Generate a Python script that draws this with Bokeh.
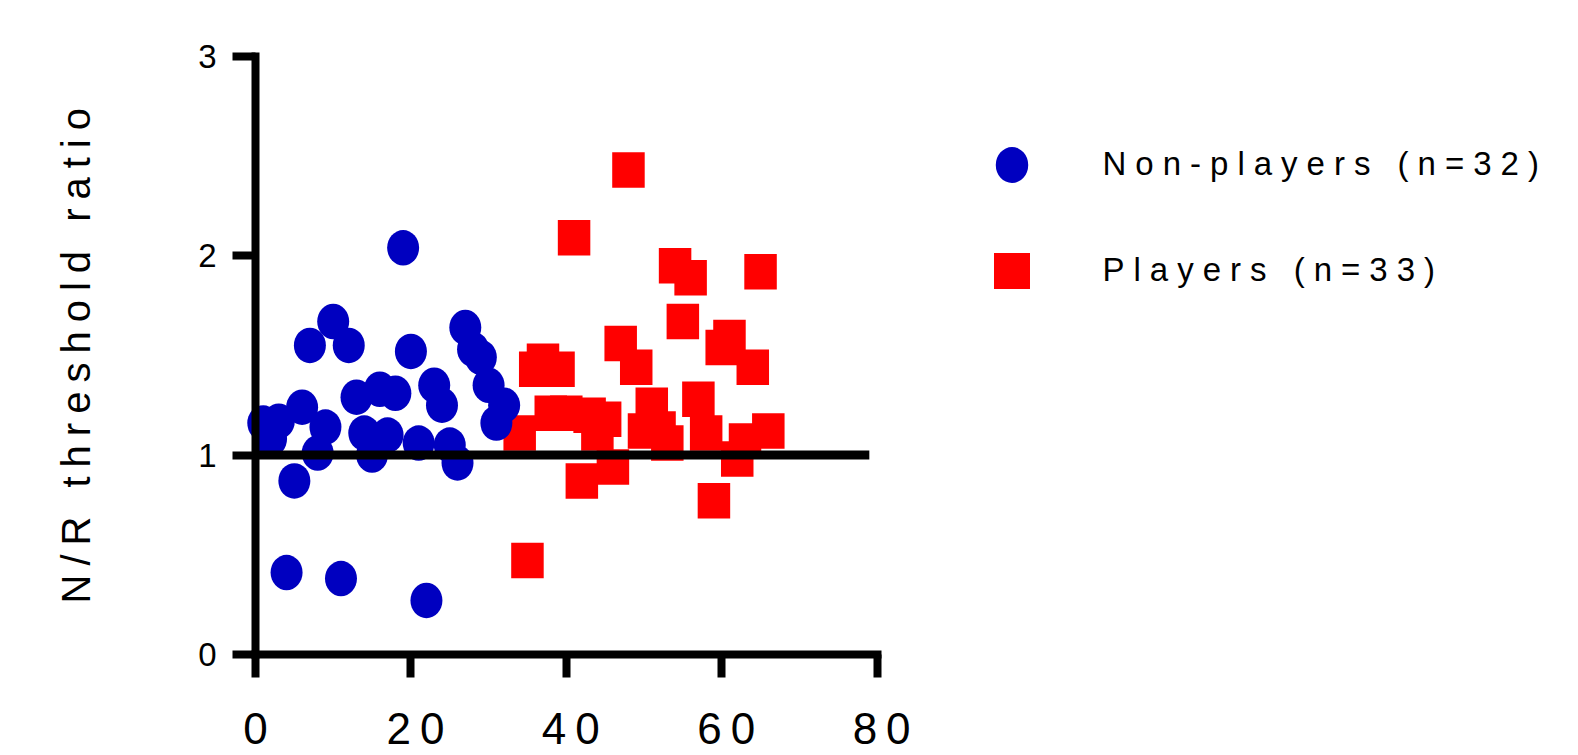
import math
from bokeh.plotting import figure
from bokeh.models import Range1d, FixedTicker, Legend, LegendItem, Label, InlineStyleSheet
from bokeh.embed import file_html
from bokeh.resources import INLINE

# ---------------- data ----------------
nonplayer_x = [1, 2, 3, 4, 5, 6, 7, 8, 9, 10, 11, 12, 13, 14, 15, 16,
               17, 18, 19, 20, 21, 22, 23, 24, 25, 26, 27, 28, 29, 30, 31, 32]
nonplayer_y = [1.16, 1.08, 1.17, 0.41, 0.87, 1.24, 1.55, 1.01, 1.14, 1.67, 0.38, 1.55,
               1.29, 1.11, 1.00, 1.33, 1.10, 1.31, 2.04, 1.52, 1.06, 0.27, 1.35, 1.25,
               1.05, 0.96, 1.64, 1.53, 1.49, 1.35, 1.16, 1.25]
player_x = [34, 35, 36, 37, 38, 39, 40, 41, 42, 43, 44, 45, 46, 47, 48, 49, 50,
            51, 52, 53, 54, 55, 56, 57, 58, 59, 60, 61, 62, 63, 64, 65, 66]
player_y = [1.11, 0.47, 1.43, 1.47, 1.21, 1.43, 1.21, 2.09, 0.87, 1.20, 1.11, 1.18, 0.94,
            1.56, 2.43, 1.44, 1.12, 1.25, 1.13, 1.06, 1.95, 1.67, 1.89, 1.28, 1.11, 0.77,
            1.54, 1.59, 0.98, 1.07, 1.44, 1.92, 1.12]
threshold_x = [0, 79]
threshold_y = [1, 1]
x_ticks = [0, 20, 40, 60, 80]
y_ticks = [0, 1, 2, 3]
y_label = "N/R threshold ratio"
label_nonplayers = "Non-players (n=32)"
label_players = "Players (n=33)"

# ---------------- geometry ----------------
W, H = 1570, 755
X0_PX, X_PX = 255.0, 7.77        # canvas x of x=0, px per x unit
Y3_PX, Y_PX = 56.0, 199.25       # canvas y of y=3, px per y unit

x_range = Range1d(-X0_PX / X_PX, (W - X0_PX) / X_PX)
y_range = Range1d(3 - (H - Y3_PX) / Y_PX, 3 + Y3_PX / Y_PX)

p = figure(width=W, height=H, x_range=x_range, y_range=y_range,
           output_backend="svg", toolbar_location=None,
           min_border=0, min_border_left=0, min_border_right=0,
           min_border_top=0, min_border_bottom=0)
p.outline_line_color = None
p.grid.visible = False
p.background_fill_color = "white"
p.border_fill_color = "white"
p.stylesheets = [InlineStyleSheet(css=":host { letter-spacing: 9px; }")]

BLUE = "#0000C0"
RED = "#FF0000"

r_red = p.rect(x=player_x, y=player_y, width=32.5, height=35.5,
               width_units="screen", height_units="screen",
               fill_color=RED, line_color=None)
r_blue = p.ellipse(x=nonplayer_x, y=nonplayer_y, width=32, height=35.5,
                   width_units="screen", height_units="screen",
                   fill_color=BLUE, line_color=None)
p.line(threshold_x, threshold_y, line_width=9, line_color="black")

FONT = "Liberation Sans"
for ax in (p.xaxis, p.yaxis):
    ax.fixed_location = 0
    ax.axis_line_width = 8
    ax.axis_line_color = "black"
    ax.axis_line_cap = "square"
    ax.major_tick_line_width = 8
    ax.major_tick_line_color = "black"
    ax.major_tick_out = 23
    ax.major_tick_in = 0
    ax.minor_tick_line_color = None
    ax.major_label_text_font = FONT
    ax.major_label_text_color = "black"

p.xaxis.bounds = (0, 80)
p.xaxis.ticker = FixedTicker(ticks=x_ticks)
p.xaxis.major_label_text_font_size = "44px"
p.xaxis.major_label_standoff = 36

p.yaxis.bounds = (0, 3)
p.yaxis.ticker = FixedTicker(ticks=y_ticks)
p.yaxis.major_label_text_font_size = "33px"
p.yaxis.major_label_standoff = 16

ylab = Label(x=75.5, y=H - 603, x_units="screen", y_units="screen",
             text=y_label, angle=math.pi / 2, text_align="left",
             text_baseline="middle", text_font=FONT, text_font_size="40px",
             text_color="black")
p.add_layout(ylab)

GLYPH, SPACING, LEG_TOP = 45, 61, 141.5
legend_height = 2 * GLYPH + SPACING
legend = Legend(items=[LegendItem(label=label_nonplayers, renderers=[r_blue]),
                       LegendItem(label=label_players, renderers=[r_red])],
                location=(988.5, H - LEG_TOP - legend_height),
                glyph_width=GLYPH, glyph_height=GLYPH,
                label_height=GLYPH, label_standoff=69, spacing=SPACING, padding=0,
                margin=0, border_line_color=None, background_fill_alpha=0,
                label_text_font=FONT, label_text_font_size="33px",
                label_text_color="black")
p.add_layout(legend)

open("out.html", "w").write(file_html(p, INLINE))
